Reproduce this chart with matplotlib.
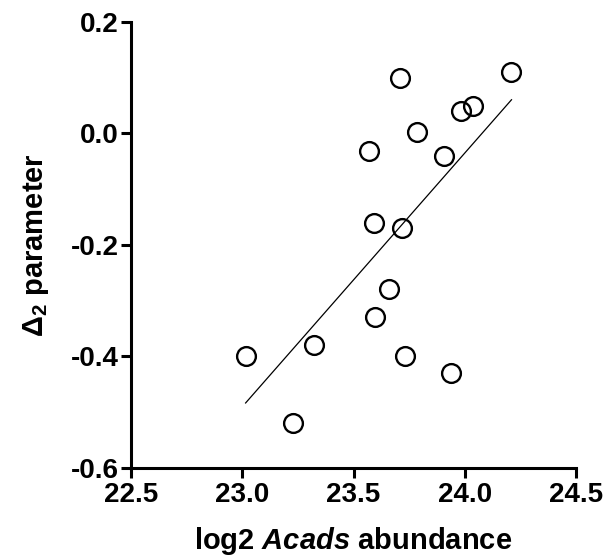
import numpy as np
import matplotlib
matplotlib.use("Agg")
import matplotlib.pyplot as plt

plt.rcParams['font.family'] = ['Liberation Sans', 'DejaVu Sans']
plt.rcParams['mathtext.fontset'] = 'custom'
plt.rcParams['mathtext.rm'] = 'Liberation Sans'
plt.rcParams['mathtext.bf'] = 'Liberation Sans:bold'
plt.rcParams['mathtext.it'] = 'Liberation Sans:italic:bold'
plt.rcParams['axes.unicode_minus'] = False

# Data
acads_log2 = [23.015, 23.323, 23.229, 23.660, 23.596, 23.730, 23.939, 23.708,
              24.210, 24.038, 23.982, 23.785, 23.568, 23.907, 23.593, 23.717]
delta2 = [-0.400, -0.380, -0.520, -0.279, -0.330, -0.400, -0.430, 0.100,
          0.110, 0.050, 0.040, 0.003, -0.031, -0.040, -0.160, -0.170]

x_ticks = [22.5, 23.0, 23.5, 24.0, 24.5]
y_ticks = [-0.6, -0.4, -0.2, 0.0, 0.2]

fig = plt.figure(figsize=(6.1, 5.55), dpi=100)
ax = fig.add_axes([0.2148, 0.1568, 0.7295, 0.8036])

x = np.array(acads_log2)
y = np.array(delta2)
slope, intercept = np.polyfit(x, y, 1)
xf = np.array([x.min(), x.max()])
ax.plot(xf, slope * xf + intercept, color='black', lw=0.9, zorder=2)

ax.plot(x, y, linestyle='none', marker='o', markersize=13.5,
        markerfacecolor='none', markeredgecolor='black', markeredgewidth=1.7, zorder=3)

ax.set_xlim(22.5, 24.5)
ax.set_ylim(-0.6, 0.2)
ax.set_xticks(x_ticks)
ax.set_yticks(y_ticks)
ax.set_xticklabels([f"{v:.1f}" for v in x_ticks])
ax.set_yticklabels([f"{v:.1f}" for v in y_ticks])

for s in ['top', 'right']:
    ax.spines[s].set_visible(False)
for s in ['left', 'bottom']:
    ax.spines[s].set_linewidth(2.2)
ax.tick_params(axis='both', direction='out', length=7, width=2.2, labelsize=20)
for lab in ax.get_xticklabels() + ax.get_yticklabels():
    lab.set_fontweight('bold')
ax.tick_params(axis='x', pad=3)
ax.tick_params(axis='y', pad=2)

ax.set_xlabel(r'log2 $\mathit{Acads}$ abundance', fontsize=21, fontweight='bold', labelpad=12)
ax.set_ylabel(r'$\mathbf{Δ_2}$ parameter', fontsize=21, fontweight='bold', labelpad=14)

fig.savefig('out.png', dpi=100)
